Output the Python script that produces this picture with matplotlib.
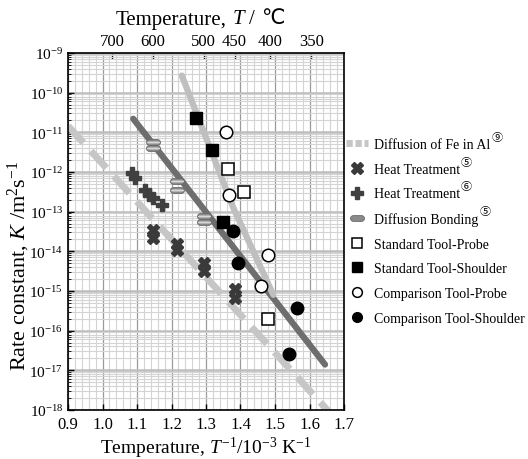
import numpy as np
import matplotlib
matplotlib.use("Agg")
import matplotlib.pyplot as plt
from matplotlib.path import Path
from matplotlib.lines import Line2D
from matplotlib.ticker import FixedLocator, MultipleLocator, LogLocator, NullFormatter
from matplotlib.offsetbox import TextArea, HPacker, AnchoredOffsetbox

plt.rcParams['font.family'] = ['Liberation Serif', 'DejaVu Sans']
plt.rcParams['mathtext.fontset'] = 'custom'
plt.rcParams['mathtext.rm'] = 'Liberation Serif'
plt.rcParams['mathtext.it'] = 'Liberation Serif:italic'
plt.rcParams['mathtext.bf'] = 'Liberation Serif:bold'

# ---- data ----
fe_al_x = [0.90, 1.66]
fe_al_k = [1.45e-11, 8.3e-19]

shoulder_fit_x = [1.089, 1.645]
shoulder_fit_k = [2.2e-11, 1.4e-17]

probe_fit_x = [1.230, 1.379, 1.495]
probe_fit_k = [2.7e-10, 1.26e-13, 8.0e-16]

ht5_x = [1.146, 1.146, 1.215, 1.215, 1.294, 1.294, 1.383, 1.383]
ht5_k = [3.5e-14, 2.2e-14, 1.5e-14, 1.1e-14, 5.1e-15, 3.2e-15, 1.1e-15, 6.8e-16]

ht6_x = [1.085, 1.094, 1.123, 1.136, 1.147, 1.173]
ht6_k = [9.4e-13, 7.0e-13, 3.6e-13, 2.7e-13, 2.2e-13, 1.5e-13]

db_x = [1.147, 1.147, 1.217, 1.217, 1.294, 1.294]
db_k = [5.7e-12, 4.0e-12, 5.9e-13, 3.6e-13, 7.9e-14, 5.6e-14]

stp_x = [1.363, 1.411, 1.479]
stp_k = [1.2e-12, 3.1e-13, 2.0e-16]

sts_x = [1.271, 1.318, 1.350]
sts_k = [2.3e-11, 3.5e-12, 5.6e-14]

ctp_x = [1.358, 1.366, 1.481, 1.459]
ctp_k = [1.0e-11, 2.7e-13, 8.3e-15, 1.3e-15]

cts_x = [1.377, 1.393, 1.565, 1.542]
cts_k = [3.2e-14, 5.0e-15, 3.7e-16, 2.6e-17]

temp_ticks = [700, 600, 500, 450, 400, 350]
y_decades = list(range(-18, -8))
x_ticks = [0.9, 1.0, 1.1, 1.2, 1.3, 1.4, 1.5, 1.6, 1.7]

labels = ["Diffusion of Fe in Al", "Heat Treatment", "Heat Treatment",
          "Diffusion Bonding", "Standard Tool-Probe", "Standard Tool-Shoulder",
          "Comparison Tool-Probe", "Comparison Tool-Shoulder"]
refs = ["⑨", "⑤", "⑥", "⑤", "", "", "", ""]

# capsule marker
t = np.linspace(-np.pi / 2, np.pi / 2, 12)
r = 0.5
right = np.column_stack([0.7 + r * np.cos(t), r * np.sin(t)])
left = np.column_stack([-0.7 - r * np.cos(t), -r * np.sin(t)])
cap_verts = np.vstack([right, left, right[:1]])
capsule = Path(cap_verts, closed=True)
cap_inner = Path(np.column_stack([cap_verts[:, 0] * 0.95, cap_verts[:, 1] * 0.35]), closed=True)

fig = plt.figure(figsize=(5.28, 4.6), dpi=100)
ax = fig.add_axes([68 / 528, 1 - 411 / 460, (344 - 68) / 528, (411 - 54) / 460])
ax.set_yscale('log')
ax.set_xlim(0.9, 1.7)
ax.set_ylim(1e-18, 1e-9)

# grid
ax.xaxis.set_major_locator(FixedLocator(x_ticks))
ax.xaxis.set_minor_locator(MultipleLocator(0.02))
ax.yaxis.set_major_locator(FixedLocator([10.0 ** d for d in y_decades]))
ax.yaxis.set_minor_locator(LogLocator(base=10, subs=np.arange(2, 10), numticks=100))
ax.yaxis.set_minor_formatter(NullFormatter())
ax.grid(which='minor', axis='both', color='#d4d4d4', lw=0.8)
ax.grid(which='major', axis='x', color='#9a9a9a', lw=0.9)
ax.grid(which='major', axis='y', color='#bdbdbd', lw=1.8)
ax.set_axisbelow(True)

ax.set_yticks([10.0 ** d for d in y_decades])
ax.set_yticklabels([r'$10^{%d}$' % d for d in y_decades], fontsize=11)
ax.set_xticks(x_ticks)
ax.set_xticklabels(['%.1f' % v for v in x_ticks], fontsize=12)
ax.tick_params(which='both', direction='in', top=False, right=False)
ax.tick_params(which='major', length=4, width=1)
ax.tick_params(axis='x', which='major', pad=4)
ax.tick_params(which='minor', length=2, width=0.6)
ax.tick_params(axis='x', which='minor', length=0)
for s in ax.spines.values():
    s.set_linewidth(1.2)

# lines
ax.plot(fe_al_x, fe_al_k, color='#c6c6c6', lw=5, dashes=(3.3, 1.6), solid_capstyle='butt', zorder=2)
ax.plot(shoulder_fit_x, shoulder_fit_k, color='#6e6e6e', lw=4.5, solid_capstyle='round', zorder=2)
ax.plot(probe_fit_x, probe_fit_k, color='#bfbfbf', lw=4.5, solid_capstyle='round', zorder=2)

# markers
ax.plot(ht5_x, ht5_k, ls='none', marker='X', ms=9, color='#3a3a3a', mec='#3a3a3a', zorder=3)
ax.plot(ht6_x, ht6_k, ls='none', marker='P', ms=9, color='#404040', mec='#404040', zorder=3)
ax.plot(db_x, db_k, ls='none', marker=capsule, ms=10, mfc='#8a8a8a', mec='#6a6a6a', mew=0.6, zorder=3)
ax.plot(db_x, db_k, ls='none', marker=cap_inner, ms=9.5, mfc='#d8d8d8', mec='none', zorder=3)
ax.plot(stp_x, stp_k, ls='none', marker='s', ms=8.5, mfc='white', mec='black', mew=1.1, zorder=4)
ax.plot(sts_x, sts_k, ls='none', marker='s', ms=8.5, mfc='black', mec='black', zorder=4)
ax.plot(ctp_x, ctp_k, ls='none', marker='o', ms=9, mfc='white', mec='black', mew=1.1, zorder=4)
ax.plot(cts_x, cts_k, ls='none', marker='o', ms=9, mfc='black', mec='black', zorder=4)

# top axis
sec = ax.secondary_xaxis('top', functions=(lambda x: 1000.0 / np.asarray(x) - 273.15,
                                           lambda T: 1000.0 / (np.asarray(T) + 273.15)))
sec.set_xticks(temp_ticks)
sec.set_xticklabels([str(v) for v in temp_ticks], fontsize=12)
sec.tick_params(direction='in', length=4, width=1, pad=3)

# top title built from pieces (italic T, sans degree-Celsius sign)
tp = dict(fontsize=15, family=['Liberation Serif', 'DejaVu Sans'])
title_box = HPacker(children=[TextArea("Temperature,", textprops=tp),
                              TextArea("T", textprops=dict(tp, style='italic')),
                              TextArea("/", textprops=tp),
                              TextArea("℃", textprops=dict(fontsize=15, family=['DejaVu Sans']))],
                    align='baseline', pad=0, sep=4)
fig.add_artist(AnchoredOffsetbox(loc='center', child=title_box, frameon=False, pad=0, borderpad=0,
                                 bbox_to_anchor=(200 / 528, 1 - 19 / 460),
                                 bbox_transform=fig.transFigure))

fig.text(206 / 528, 5.5 / 460, r'Temperature, $T^{-1}$/10$^{-3}$ K$^{-1}$', fontsize=14,
         ha='center', va='baseline')
fig.text(19 / 528, 1 - 266 / 460, r'Rate constant, $K$ /m$^{2}$s$^{-1}$', fontsize=16,
         rotation=90, ha='center', va='center')

# legend
handles = [
    Line2D([], [], color='#c6c6c6', lw=5, dashes=(0.9, 0.4)),
    Line2D([], [], ls='none', marker='X', ms=8, color='#3a3a3a'),
    Line2D([], [], ls='none', marker='P', ms=8, color='#404040'),
    Line2D([], [], ls='none', marker=capsule, ms=10, mfc='#8a8a8a', mec='#6a6a6a', mew=0.6),
    Line2D([], [], ls='none', marker='s', ms=7, mfc='white', mec='black', mew=1.1),
    Line2D([], [], ls='none', marker='s', ms=7, mfc='black', mec='black'),
    Line2D([], [], ls='none', marker='o', ms=7, mfc='white', mec='black', mew=1.1),
    Line2D([], [], ls='none', marker='o', ms=7, mfc='black', mec='black'),
]
leg = fig.legend(handles, labels, loc='upper left', bbox_to_anchor=(342 / 528, 1 - 135 / 460),
                 frameon=False, fontsize=10, handlelength=1.6, handletextpad=0.4,
                 labelspacing=0.84, borderaxespad=0, borderpad=0.3)

fig.canvas.draw()
renderer = fig.canvas.get_renderer()
inv = fig.transFigure.inverted()
for txt, ref in zip(leg.get_texts(), refs):
    if not ref:
        continue
    bb = txt.get_window_extent(renderer)
    x0, y0 = inv.transform((bb.x1 + 1, bb.y1 - 4))
    fig.text(x0, y0, ref, fontsize=8, family=['Noto Sans CJK JP', 'DejaVu Sans'],
             ha='left', va='bottom')

fig.savefig('out.png', dpi=100)
